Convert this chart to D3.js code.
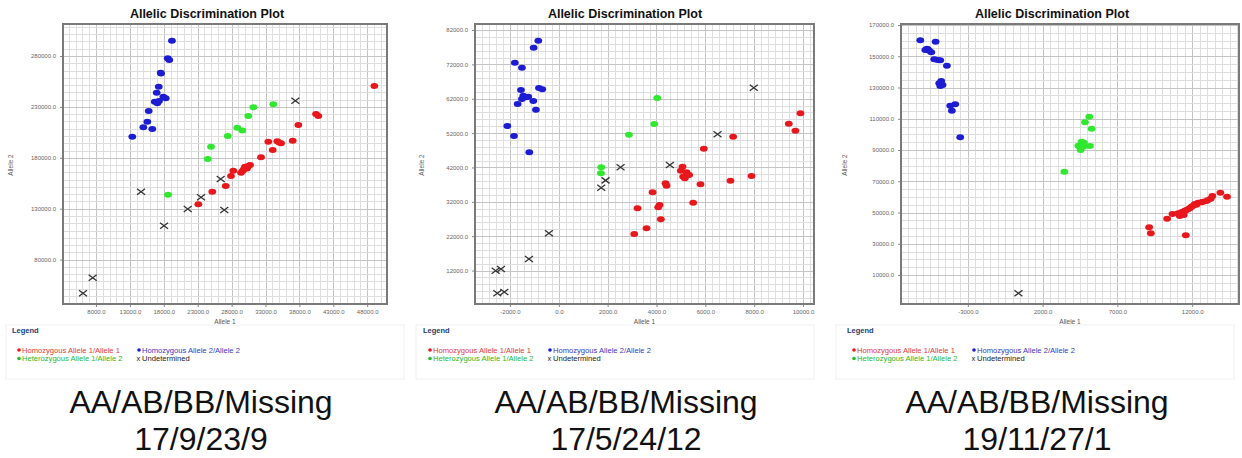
<!DOCTYPE html>
<html>
<head>
<meta charset="utf-8">
<script src="https://cdn.jsdelivr.net/npm/d3@7"></script>
<style>
  body { margin: 0; background: #fff; }
  svg { display: block; font-family: Arial, "Liberation Sans", sans-serif; }
</style>
</head>
<body>
<svg id="chart" width="1242" height="458"></svg>
<script>
// ---- data, [Allele 1, Allele 2] ----
var p1Red = [[49050,250530],[40450,223030],[40790,221060],[37840,212220],[37010,196800],[33410,195820],
  [34740,196210],[35290,194240],[34060,187660],[32340,180490],[30460,171950],[29980,171260],[29640,167330],
  [29390,165370],[28250,167330],[27910,162120],[27130,152300],[25150,146700],[23090,134320],[30720,172930],
  [29830,169000],[35000,195030],[30270,169490]];
var p1Blue = [[19200,295000],[18580,277740],[18810,276070],[17540,263600],[17250,249850],[16950,243950],
  [17930,240030],[18280,238460],[16660,235120],[17040,233550],[15770,225990],[15570,215480],[14980,209970],
  [16300,208290],[13350,200730],[17290,235800],[17590,262800]];
var p1Green = [[31200,229610],[34150,232550],[30460,221060],[28840,209570],[29580,206820],[27430,201420],
  [24960,190900],[24480,178820],[18620,143750]];
var p1Und = [[37400,236090],[26390,159180],[23490,141200],[21530,129710],[26920,128730],[14640,146700],
  [18030,113300],[7510,62230],[6080,46900]];

var p2Red = [[9894,57750],[9417,54740],[9689,52710],[7139,50960],[5938,47470],[5066,42230],[4997,41070],
  [5229,40580],[5093,39320],[5338,39800],[5161,38840],[5802,37090],[7889,39510],[7030,38160],[4370,37380],
  [4411,36700],[3838,34760],[5502,31750],[4124,31080],[4070,30400],[3224,30110],[4179,26900],[3592,24290],
  [3088,22640]];
var p2Blue = [[-840,78900],[-1030,76860],[-1800,72490],[-1510,71040],[-1550,64540],[-813,65120],[-677,64730],
  [-1454,62890],[-1250,62600],[-1510,61920],[-1045,61340],[-1686,60470],[-936,58820],[-2110,54060],
  [-1836,51150],[-1209,46400],[-1345,62410]];
var p2Green = [[4030,62210],[3906,54650],[2870,51540],[1737,42040],[1724,40290]];
var p2Und = [[7985,65220],[6500,51640],[4547,42720],[2528,42040],[1915,38250],[1737,36120],[-404,22830],
  [-1223,15360],[-2587,11970],[-2368,12450],[-2518,5370],[-2232,5760]];

var p3Red = [[13888,62710],[14333,60150],[13354,60580],[13243,58870],[12953,57380],[12731,56950],[12397,56310],
  [12175,55460],[11952,53750],[11730,52050],[11507,51190],[11285,50130],[11173,47780],[10684,49060],
  [10328,46070],[9126,40530],[9238,36690],[11574,35410],[13065,58020],[12620,56520],[12286,55030],
  [12063,54390],[11841,52680],[11618,51620],[11396,50550],[11440,48410],[11062,49490]];
var p3Blue = [[-6182,160190],[-5158,159335],[-5737,154860],[-5581,153580],[-5448,152510],[-5848,154000],
  [-5247,148030],[-5025,147600],[-4847,147390],[-4402,143980],[-4780,134170],[-4914,132670],[-4691,131610],
  [-4847,130970],[-3846,119230],[-4179,118380],[-4068,115180],[-3512,98120],[-5670,154430]];
var p3Green = [[5121,111340],[4832,107720],[5277,103660],[4610,95350],[4387,92790],[4721,92150],[5166,92580],
  [4543,90010],[3453,76150],[4765,94710],[4498,91720]];
var p3Und = [[382,-1710]];

var p1XTicks = [8000,13000,18000,23000,28000,33000,38000,43000,48000];
var p1YTicks = [80000,130000,180000,230000,280000];
var p2XTicks = [-2000,0,2000,4000,6000,8000,10000];
var p2YTicks = [12000,22000,32000,42000,52000,62000,72000,82000];
var p3XTicks = [-3000,2000,7000,12000];
var p3YTicks = [10000,30000,50000,70000,90000,110000,130000,150000,170000];

var summaries = ["17/9/23/9", "17/5/24/12", "19/11/27/1"];
var legendLabels = ["Homozygous Allele 1/Allele 1", "Homozygous Allele 2/Allele 2",
                    "Heterozygous Allele 1/Allele 2", "Undetermined"];

var colors = { red: "#e8171c", blue: "#1c1cd2", green: "#2fe82f", und: "#333" };

var panels = [
  { x0: 0,   left: 63,  right: 387,  xDom: [3130, 50920],  yDom: [36390, 311430],
    xTicks: p1XTicks, yTicks: p1YTicks, xSub: 5, ySub: 7, red: p1Red, blue: p1Blue, green: p1Green, und: p1Und,
    titleX: 207, yLabX: 13, legX: 12, textX: 201 },
  { x0: 410, left: 475, right: 814,  xDom: [-3432, 10450], yDom: [2270, 83750],
    xTicks: p2XTicks, yTicks: p2YTicks, xSub: 7, ySub: 5, red: p2Red, blue: p2Blue, green: p2Green, und: p2Und,
    titleX: 625, yLabX: 424, legX: 423, textX: 626 },
  { x0: 830, left: 901, right: 1239, xDom: [-7472, 15134], yDom: [-8530, 170640],
    xTicks: p3XTicks, yTicks: p3YTicks, xSub: 10, ySub: 4, red: p3Red, blue: p3Blue, green: p3Green, und: p3Und,
    titleX: 1052, yLabX: 847, legX: 847, textX: 1037 }
];

var svg = d3.select("#chart");
var plotTop = 24, plotBottom = 304;
var fmt = function(d) { return d.toFixed(1); };

panels.forEach(function(p, pi) {
  var x = d3.scaleLinear().domain(p.xDom).range([p.left, p.right]);
  var y = d3.scaleLinear().domain(p.yDom).range([plotBottom, plotTop]);
  var g = svg.append("g");

  // minor grid
  var xs = (p.xTicks[1] - p.xTicks[0]) / p.xSub,
      ys = (p.yTicks[1] - p.yTicks[0]) / p.ySub;
  var gx = d3.range(p.xTicks[0] - Math.ceil((p.xTicks[0] - p.xDom[0]) / xs) * xs, p.xDom[1], xs)
    .filter(function(v) { return v > p.xDom[0]; });
  var gy = d3.range(p.yTicks[0] - Math.ceil((p.yTicks[0] - p.yDom[0]) / ys) * ys, p.yDom[1], ys)
    .filter(function(v) { return v > p.yDom[0]; });

  g.append("g").selectAll("line").data(gx).enter().append("line")
    .attr("x1", function(d) { return Math.round(x(d)) + 0.5; })
    .attr("x2", function(d) { return Math.round(x(d)) + 0.5; })
    .attr("y1", plotTop).attr("y2", plotBottom)
    .attr("stroke", function(d) { return p.xTicks.indexOf(Math.round(d)) >= 0 ? "#c4c4c4" : "#dedede"; })
    .attr("stroke-width", 1);
  g.append("g").selectAll("line").data(gy).enter().append("line")
    .attr("y1", function(d) { return Math.round(y(d)) + 0.5; })
    .attr("y2", function(d) { return Math.round(y(d)) + 0.5; })
    .attr("x1", p.left).attr("x2", p.right)
    .attr("stroke", function(d) { return p.yTicks.indexOf(Math.round(d)) >= 0 ? "#c4c4c4" : "#dedede"; })
    .attr("stroke-width", 1);

  // axes
  var ax = g.append("g").attr("transform", "translate(0," + plotBottom + ")")
    .call(d3.axisBottom(x).tickValues(p.xTicks).tickFormat(fmt).tickSize(3).tickPadding(3));
  var ay = g.append("g").attr("transform", "translate(" + p.left + ",0)")
    .call(d3.axisLeft(y).tickValues(p.yTicks).tickFormat(fmt).tickSize(3).tickPadding(4));
  [ax, ay].forEach(function(a) {
    a.select(".domain").remove();
    a.selectAll(".tick line").attr("stroke", "#888");
    a.selectAll(".tick text").attr("font-size", 6).attr("fill", "#666").attr("font-family", "Arial");
  });

  // frame
  g.append("rect").attr("x", p.left).attr("y", plotTop)
    .attr("width", p.right - p.left).attr("height", plotBottom - plotTop)
    .attr("fill", "none").attr("stroke", "#7a7a7a").attr("stroke-width", 2);

  // titles
  g.append("text").attr("x", p.titleX).attr("y", 18).attr("text-anchor", "middle")
    .attr("font-size", 12.5).attr("font-weight", "bold").attr("fill", "#111")
    .text("Allelic Discrimination Plot");
  g.append("text").attr("x", (p.left + p.right) / 2).attr("y", 324).attr("text-anchor", "middle")
    .attr("font-size", 6.5).attr("fill", "#555").text("Allele 1");
  g.append("text").attr("transform", "translate(" + p.yLabX + ",165) rotate(-90)")
    .attr("text-anchor", "middle").attr("font-size", 6.5).attr("fill", "#555").text("Allele 2");

  // points
  [["red", p.red], ["blue", p.blue], ["green", p.green]].forEach(function(s) {
    g.append("g").selectAll("ellipse").data(s[1]).enter().append("ellipse")
      .attr("cx", function(d) { return x(d[0]); })
      .attr("cy", function(d) { return y(d[1]); })
      .attr("rx", 3.9).attr("ry", 3)
      .attr("fill", colors[s[0]]);
  });
  g.append("g").selectAll("path").data(p.und).enter().append("path")
    .attr("d", function(d) {
      var cx = x(d[0]), cy = y(d[1]);
      return "M" + (cx - 4) + "," + (cy - 3) + "L" + (cx + 4) + "," + (cy + 3) +
             "M" + (cx - 4) + "," + (cy + 3) + "L" + (cx + 4) + "," + (cy - 3);
    })
    .attr("stroke", colors.und).attr("stroke-width", 1.3).attr("fill", "none");

  // legend
  var lg = g.append("g");
  lg.append("rect").attr("x", p.x0 + 6).attr("y", 325).attr("width", 398).attr("height", 54)
    .attr("fill", "#fff").attr("stroke", "#efefef");
  lg.append("text").attr("x", p.legX).attr("y", 333).attr("font-size", 7.5).attr("font-weight", "bold")
    .attr("fill", "#1d3c6e").text("Legend");
  var items = [
    { c: colors.red, t: legendLabels[0], dx: 7, dy: 350 },
    { c: colors.blue, t: legendLabels[1], dx: 127, dy: 350 },
    { c: "#2ab82a", t: legendLabels[2], dx: 7, dy: 358.5 },
    { c: "#222", t: legendLabels[3], dx: 127, dy: 358.5, x: true }
  ];
  items.forEach(function(it) {
    var ix = p.legX + it.dx;
    if (it.x) {
      lg.append("text").attr("x", ix - 2.5).attr("y", it.dy + 2.5).attr("font-size", 7.5).attr("fill", "#222").text("x");
    } else {
      lg.append("circle").attr("cx", ix).attr("cy", it.dy).attr("r", 1.8).attr("fill", it.c);
    }
    lg.append("text").attr("x", ix + 3).attr("y", it.dy + 2.5).attr("font-size", 7.6)
      .attr("fill", it.c === colors.red ? "#e03a3a" : it.c === colors.blue ? "#3a3ac0" : it.c)
      .text(it.t);
  });

  // genotype counts under each plot
  g.append("text").attr("x", p.textX).attr("y", 413).attr("text-anchor", "middle")
    .attr("font-family", "'Liberation Sans', Arial, sans-serif").attr("font-size", 32).attr("fill", "#111")
    .text("AA/AB/BB/Missing");
  g.append("text").attr("x", p.textX).attr("y", 450).attr("text-anchor", "middle")
    .attr("font-family", "'Liberation Sans', Arial, sans-serif").attr("font-size", 32).attr("fill", "#111")
    .text(summaries[pi]);
});
</script>
</body>
</html>
